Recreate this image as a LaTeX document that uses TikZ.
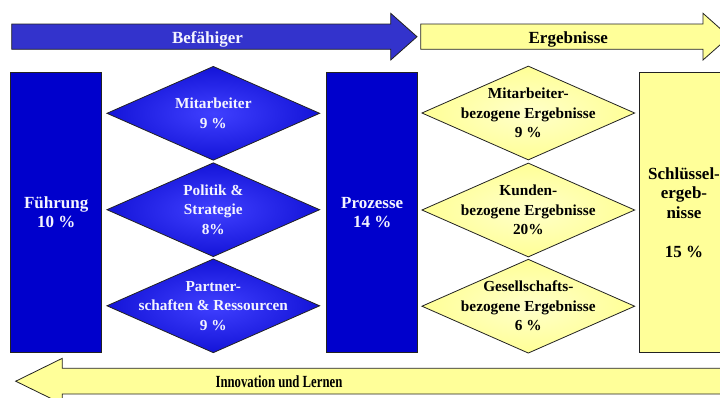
\documentclass[tikz,border=0pt]{standalone}
\usepackage{fontspec}
\setmainfont{Liberation Serif}
\usetikzlibrary{shapes.geometric}

\definecolor{barblue}{HTML}{0000CC}
\definecolor{arrowblue}{HTML}{3333CC}
\definecolor{deepblue}{HTML}{1414D8}
\definecolor{glowblue}{HTML}{4040FF}
\definecolor{paleyellow}{HTML}{FFFF99}
\definecolor{tipyellow}{HTML}{FFFF96}
\definecolor{creamyellow}{HTML}{FFFFCA}
\definecolor{textwhite}{HTML}{F4F4FF}
\definecolor{edgegray}{HTML}{222222}

\begin{document}
\begin{tikzpicture}[x=1pt,y=-1pt,
  outline/.style={draw=edgegray, line width=0.8pt},
  bigfont/.style={font=\fontsize{17}{19.5}\selectfont\bfseries},
  smallfont/.style={font=\fontsize{15.3}{19.5}\selectfont\bfseries},
  bluebar/.style={outline, fill=barblue, text=textwhite, align=center, bigfont,
    inner sep=0pt, minimum width=91pt, minimum height=280pt},
  yellowbar/.style={outline, fill=paleyellow, text=black, align=center, bigfont,
    inner sep=0pt, minimum width=90pt, minimum height=280pt},
  bluediamond/.style={diamond, outline, inner sep=0pt, minimum width=213pt,
    minimum height=94pt, inner color=glowblue, outer color=deepblue},
  yellowdiamond/.style={diamond, outline, inner sep=0pt, minimum width=213pt,
    minimum height=94pt, inner color=creamyellow, outer color=tipyellow},
  bluetext/.style={smallfont, text=textwhite, align=center, inner sep=0pt},
  yellowtext/.style={smallfont, text=black, align=center, inner sep=0pt},
  arrowtext/.style={bigfont, anchor=base, inner sep=0pt}
]
\useasboundingbox (0,0) rectangle (720,397);

% top arrows: enablers and results
\draw[outline, fill=arrowblue]
  (11.7,24) -- (390.7,24) -- (390.7,13.3) -- (417,36.7) -- (390.7,60)
  -- (390.7,49.3) -- (11.7,49.3) -- cycle;
\node[arrowtext, text=textwhite] (befaehiger) at (207.5,43.3) {Befähiger};

\draw[outline, fill=paleyellow]
  (420.7,24) -- (703,24) -- (703,13.3) -- (729.3,36.7) -- (703,60)
  -- (703,49.3) -- (420.7,49.3) -- cycle;
\node[arrowtext, text=black] (ergebnisse) at (568.3,43.3) {Ergebnisse};

% columns
\node[bluebar] (fuehrung) at (56.2,212.3) {Führung\\10 \%};
\node[bluebar] (prozesse) at (372.2,212.3) {Prozesse\\14 \%};
\node[yellowbar] (schluessel) at (684,212.5)
  {Schlüssel-\\ergeb-\\nisse\\\mbox{}\\15 \%};

% enabler criteria
\node[bluediamond] (mitarbeiter) at (213.3,113.3) {};
\node[bluediamond] (politik) at (213.3,209.7) {};
\node[bluediamond] (partner) at (213.3,305.8) {};
\node[bluetext] at (mitarbeiter.center) {Mitarbeiter\\9 \%};
\node[bluetext] at (politik.center) {Politik \&\\Strategie\\8\%};
\node[bluetext] at (partner.center) {Partner-\\schaften \& Ressourcen\\9 \%};

% result criteria
\node[yellowdiamond] (maerg) at (528.3,113) {};
\node[yellowdiamond] (kunderg) at (528.3,210) {};
\node[yellowdiamond] (geserg) at (528.3,306.2) {};
\node[yellowtext] at (maerg.center) {Mitarbeiter-\\bezogene Ergebnisse\\9 \%};
\node[yellowtext] at (kunderg.center) {Kunden-\\bezogene Ergebnisse\\20\%};
\node[yellowtext] at (geserg.center) {Gesellschafts-\\bezogene Ergebnisse\\6 \%};

% feedback arrow
\draw[outline, fill=paleyellow]
  (730,368.3) -- (62.3,368.3) -- (62.3,358.3) -- (15.7,381.2) -- (62.3,404)
  -- (62.3,394) -- (730,394) -- cycle;
\node[arrowtext, text=black] (innovation) at (279,387.3)
  {\scalebox{0.75}[1]{\fontsize{17}{19}\selectfont Innovation und Lernen}};
\end{tikzpicture}
\end{document}
